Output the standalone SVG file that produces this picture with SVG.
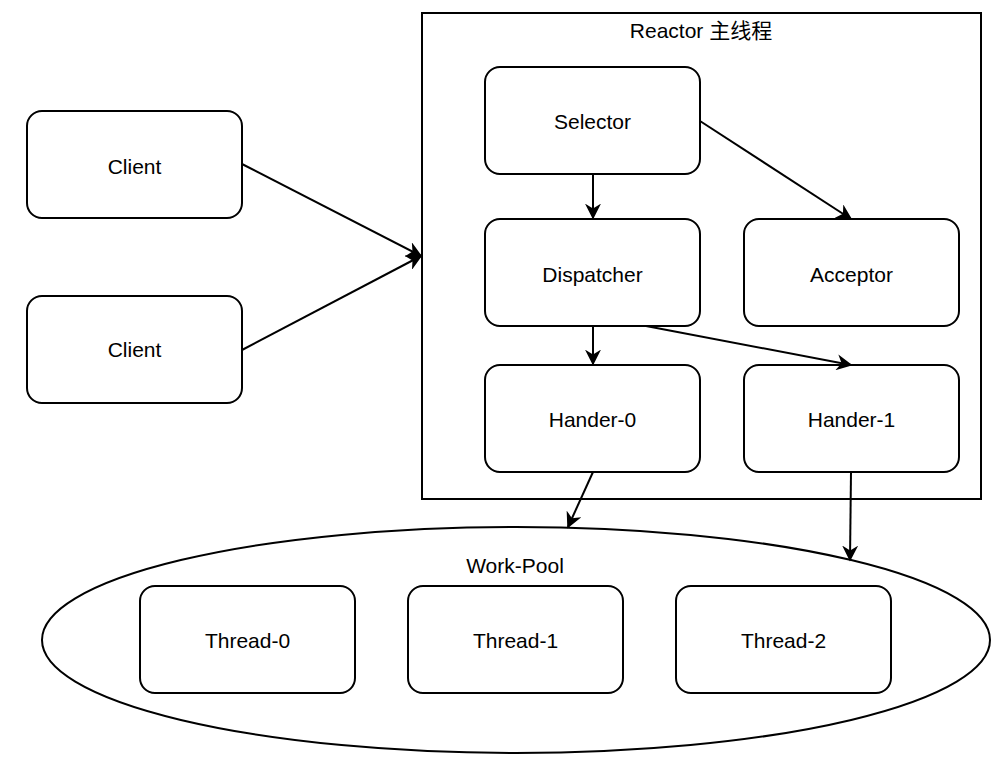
<svg xmlns="http://www.w3.org/2000/svg" width="1004" height="763" viewBox="0 0 1004 763">
<defs>
<style>
.n{fill:#fff;stroke:#000;stroke-width:2}
.t{font-family:"Liberation Sans",Arial,"Noto Sans CJK SC",sans-serif;font-size:21px;fill:#000;text-anchor:middle;dominant-baseline:central}
.c{fill:none;stroke:#000;stroke-width:2}
</style>
<marker id="a" viewBox="0 0 10 10" refX="9" refY="5" markerWidth="10" markerHeight="10" markerUnits="userSpaceOnUse" orient="auto">
<path d="M0,0 L10,5 L0,10 L3,5 Z" fill="#000"/>
</marker>
<marker id="b" viewBox="0 0 10 10" refX="9" refY="5" markerWidth="16" markerHeight="16" markerUnits="userSpaceOnUse" orient="auto">
<path d="M0,0 L10,5 L0,10 L3,5 Z" fill="#000"/>
</marker>
</defs>
<rect width="1004" height="763" fill="#fff"/>
<g id="reactor"><rect x="422" y="13" width="559" height="486" fill="#fff" stroke="#000" stroke-width="2"/><text class="t" x="701" y="30">Reactor 主线程</text></g>
<g id="workpool"><ellipse cx="516" cy="640" rx="474" ry="113" class="n"/><text class="t" x="515" y="565">Work-Pool</text></g>
<g id="client1"><rect x="27" y="111" width="215" height="107" rx="15" class="n"/><text class="t" x="134.5" y="166">Client</text></g>
<g id="client2"><rect x="27" y="296" width="215" height="107" rx="15" class="n"/><text class="t" x="134.5" y="349">Client</text></g>
<g id="selector"><rect x="485" y="67" width="215" height="107" rx="15" class="n"/><text class="t" x="592.5" y="121">Selector</text></g>
<g id="dispatcher"><rect x="485" y="219" width="215" height="107" rx="15" class="n"/><text class="t" x="592.5" y="274">Dispatcher</text></g>
<g id="acceptor"><rect x="744" y="219" width="215" height="107" rx="15" class="n"/><text class="t" x="851.5" y="274">Acceptor</text></g>
<g id="hander0"><rect x="485" y="365" width="215" height="107" rx="15" class="n"/><text class="t" x="592.5" y="419">Hander-0</text></g>
<g id="hander1"><rect x="744" y="365" width="215" height="107" rx="15" class="n"/><text class="t" x="851.5" y="419">Hander-1</text></g>
<g id="thread0"><rect x="140" y="586" width="215" height="107" rx="15" class="n"/><text class="t" x="247.5" y="640">Thread-0</text></g>
<g id="thread1"><rect x="408" y="586" width="215" height="107" rx="15" class="n"/><text class="t" x="515.5" y="640">Thread-1</text></g>
<g id="thread2"><rect x="676" y="586" width="215" height="107" rx="15" class="n"/><text class="t" x="783.5" y="640">Thread-2</text></g>
<g id="connectors">
<path class="c" d="M242,164 L421,256" marker-end="url(#b)"/>
<path class="c" d="M242,350 L421,256" marker-end="url(#b)"/>
<path class="c" d="M593,174 L593,218" marker-end="url(#b)"/>
<path class="c" d="M700,121 L851,219" marker-end="url(#b)"/>
<path class="c" d="M593,326 L593,364" marker-end="url(#b)"/>
<path class="c" d="M646,326 L851,365" marker-end="url(#b)"/>
<path class="c" d="M593,472 L568,527" marker-end="url(#b)"/>
<path class="c" d="M851,472 L850,560" marker-end="url(#b)"/>
</g>
</svg>
